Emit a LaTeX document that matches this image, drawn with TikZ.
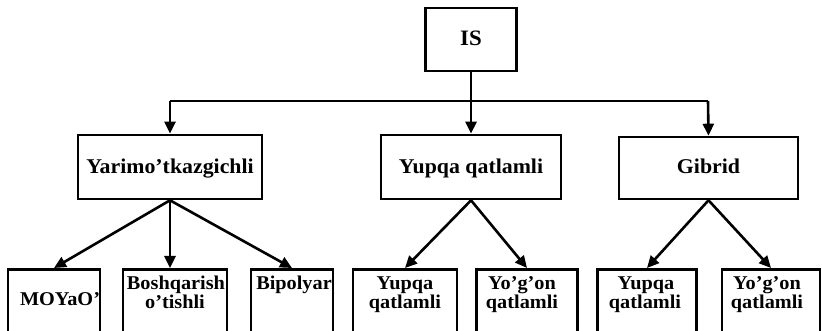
\documentclass[tikz,border=0pt]{standalone}
\usepackage{fontspec}
\setmainfont{Liberation Serif}[FakeStretch=1.04]
\usetikzlibrary{arrows.meta}
\tikzset{
  box/.style={draw=black, line width=2.6pt, fill=white, inner sep=0pt},
  txt/.style={font=\fontsize{21}{18}\selectfont\bfseries, inner sep=0pt, anchor=base},
  stxt/.style={font=\fontsize{19.5}{18}\selectfont\bfseries, inner sep=0pt, anchor=base},
  arr/.style={line width=2.6pt, -{Triangle[length=12pt,width=11pt]}},
  hline/.style={line width=2pt}
}
\begin{document}
\begin{tikzpicture}[x=1pt,y=-1pt]
\useasboundingbox (0,0) rectangle (822,331);
\clip (0,0) rectangle (822,331);
\fill[white] (0,0) rectangle (822,331);
% top
\node[box, minimum width=91pt, minimum height=63pt] (is) at (471,39.5) {};
\node[txt, font=\fontsize{22}{22}\selectfont\bfseries] (ist) at (471,46) {IS};
% level 2
\node[box, minimum width=184pt, minimum height=64pt] (ya) at (170,167) {};
\node[txt] (yat) at (170,173.5) {Yarimo’tkazgichli};
\node[box, minimum width=180pt, minimum height=64pt] (yu) at (471,167) {};
\node[txt] (yut) at (471,173.5) {Yupqa qatlamli};
\node[box, minimum width=179pt, minimum height=62pt] (gb) at (708.5,168) {};
\node[txt] (gbt) at (708.5,173.5) {Gibrid};
% connectors level 1
\coordinate (hl) at (170,101);
\coordinate (hr) at (708,101);
\draw[hline] (hl) -- (hr);
\draw[arr] (hl) -- (ya.north);
\draw[arr] (is.south) -- (yu.north);
\draw[arr] (hr) -- (gb.north);
% level 3 boxes
\node[box, anchor=north, minimum width=92pt, minimum height=80pt] (b1) at (54,268) {};
\node[box, anchor=north, minimum width=104pt, minimum height=80pt] (b2) at (175,268) {};
\node[box, anchor=north, minimum width=82pt, minimum height=80pt] (b3) at (292,268) {};
\node[box, anchor=north, minimum width=104pt, minimum height=80pt] (b4) at (405,268) {};
\node[box, anchor=north, minimum width=101pt, minimum height=80pt] (b5) at (527,268) {};
\node[box, anchor=north, minimum width=99pt, minimum height=80pt] (b6) at (647,268) {};
\node[box, anchor=north, minimum width=98pt, minimum height=80pt] (b7) at (771,268) {};
% level 3 texts
\node[stxt] (t1) at (60,305) {MOYaO’};
\node[stxt] (t2a) at (176,289.5) {Boshqarish};
\node[stxt] (t2b) at (175,308.5) {o’tishli};
\node[stxt] (t3) at (294,289.5) {Bipolyar};
\node[stxt] (t4a) at (405,289.5) {Yupqa};
\node[stxt] (t4b) at (405,308.5) {qatlamli};
\node[stxt] (t5a) at (522,289.5) {Yo’g’on};
\node[stxt] (t5b) at (522,308.5) {qatlamli};
\node[stxt] (t6a) at (646,289.5) {Yupqa};
\node[stxt] (t6b) at (645,308.5) {qatlamli};
\node[stxt] (t7a) at (767,289.5) {Yo’g’on};
\node[stxt] (t7b) at (767,308.5) {qatlamli};
% connectors level 2
\draw[arr] (ya.south) -- (b1.north);
\draw[arr] (ya.south) -- (b2.north -| ya.south);
\draw[arr] (ya.south) -- (b3.north);
\draw[arr] (yu.south) -- (b4.north);
\draw[arr] (yu.south) -- (b5.north);
\draw[arr] (gb.south) -- (b6.north);
\draw[arr] (gb.south) -- (b7.north);
\end{tikzpicture}
\end{document}
